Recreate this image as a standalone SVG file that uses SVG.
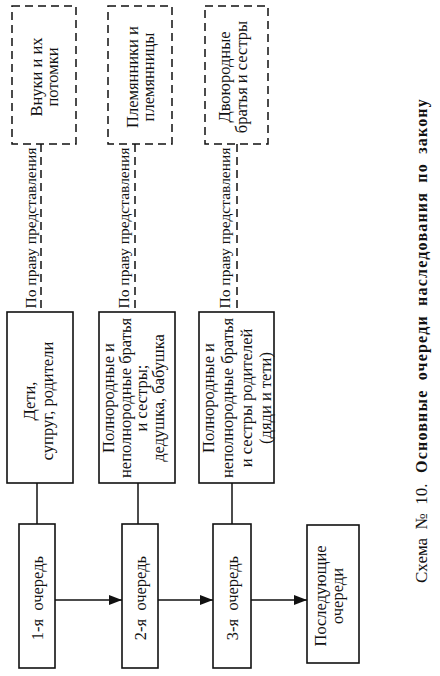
<svg xmlns="http://www.w3.org/2000/svg" width="440" height="676" viewBox="0 0 440 676">
<style>
.box{fill:#fff;stroke:#111;stroke-width:1.6}
.dbox{fill:#fff;stroke:#111;stroke-width:1.5;stroke-dasharray:8 5}
.ln{stroke:#111;stroke-width:1.5;fill:none}
.dln{stroke:#111;stroke-width:1.5;fill:none;stroke-dasharray:8 5}
text{font-family:"Liberation Serif","Times New Roman",serif;fill:#111;text-anchor:middle;dominant-baseline:central}
.t{font-size:16.5px}
.lbl{font-size:15.5px}
.cap{font-size:17px;text-anchor:start}
.capb{font-size:16px;font-weight:bold;text-anchor:end;letter-spacing:1.2px;word-spacing:4px}
</style>
<defs>
<marker id="ah" markerWidth="13" markerHeight="10" refX="13" refY="5" orient="auto" markerUnits="userSpaceOnUse">
<path d="M0,0 L13,5 L0,10 Z" fill="#111"/>
</marker>
</defs>
<rect width="440" height="676" fill="#fff"/>

<g id="connectors">
<line class="dln" x1="41" y1="144" x2="41" y2="312"/>
<line class="dln" x1="135" y1="144" x2="135" y2="312"/>
<line class="dln" x1="237" y1="144" x2="237" y2="312"/>
<line class="ln" x1="37" y1="483" x2="37" y2="524"/>
<line class="ln" x1="138" y1="483" x2="138" y2="524"/>
<line class="ln" x1="232" y1="483" x2="232" y2="524"/>
<line class="ln" x1="55" y1="600" x2="122" y2="600" marker-end="url(#ah)"/>
<line class="ln" x1="158" y1="600" x2="213" y2="600" marker-end="url(#ah)"/>
<line class="ln" x1="251" y1="600" x2="307" y2="600" marker-end="url(#ah)"/>
<text class="lbl" transform="translate(30,228) rotate(-90)">По праву представления</text>
<text class="lbl" transform="translate(123,228) rotate(-90)">По праву представления</text>
<text class="lbl" transform="translate(224,228) rotate(-90)">По праву представления</text>
</g>

<g id="grandchildren">
<rect class="dbox" x="12" y="6" width="64" height="138"/>
<text class="t" transform="translate(44,77) rotate(-90)"><tspan x="0" dy="-8">Внуки и их</tspan><tspan x="0" dy="16">потомки</tspan></text>
</g>
<g id="nephews">
<rect class="dbox" x="108" y="6" width="64" height="138"/>
<text class="t" transform="translate(140,77) rotate(-90)"><tspan x="0" dy="-8">Племянники и</tspan><tspan x="0" dy="16">племянницы</tspan></text>
</g>
<g id="cousins">
<rect class="dbox" x="205" y="6" width="63" height="138"/>
<text class="t" transform="translate(232,77) rotate(-90)"><tspan x="0" dy="-8.5">Двоюродные</tspan><tspan x="0" dy="17">братья и сестры</tspan></text>
</g>

<g id="heirs1">
<rect class="box" x="7" y="312" width="66" height="171"/>
<text class="t" transform="translate(38,401) rotate(-90)"><tspan x="0" dy="-9">Дети,</tspan><tspan x="0" dy="18">супруг, родители</tspan></text>
</g>
<g id="heirs2">
<rect class="box" x="99" y="312" width="76" height="171"/>
<text class="t" transform="translate(133,398) rotate(-90)"><tspan x="0" dy="-25">Полнородные и</tspan><tspan x="0" dy="16.5">неполнородные братья</tspan><tspan x="0" dy="16.5">и сестры;</tspan><tspan x="0" dy="16.5">дедушка, бабушка</tspan></text>
</g>
<g id="heirs3">
<rect class="box" x="199" y="312" width="75" height="171"/>
<text class="t" transform="translate(236.5,398) rotate(-90)"><tspan x="0" dy="-28.5">Полнородные и</tspan><tspan x="0" dy="19">неполнородные братья</tspan><tspan x="0" dy="19">и сестры родителей</tspan><tspan x="0" dy="19">(дяди и тети)</tspan></text>
</g>

<g id="queue1">
<rect class="box" x="19" y="524" width="36" height="144"/>
<text class="t" transform="translate(37.5,598) rotate(-90)" xml:space="preserve">1-я  очередь</text>
</g>
<g id="queue2">
<rect class="box" x="122" y="524" width="36" height="144"/>
<text class="t" transform="translate(140,598) rotate(-90)" xml:space="preserve">2-я  очередь</text>
</g>
<g id="queue3">
<rect class="box" x="213" y="524" width="38" height="144"/>
<text class="t" transform="translate(232.5,598) rotate(-90)" xml:space="preserve">3-я  очередь</text>
</g>
<g id="queue-next">
<rect class="box" x="307" y="525" width="52" height="138"/>
<text class="t" transform="translate(328,596) rotate(-90)"><tspan x="0" dy="-8.5">Последующие</tspan><tspan x="0" dy="17">очереди</tspan></text>
</g>

<g id="caption">
<text class="cap" transform="translate(421,583) rotate(-90)" xml:space="preserve">Схема  №  10.</text>
<text class="capb" transform="translate(421,98) rotate(-90)">Основные очереди наследования по закону</text>
</g>
</svg>
